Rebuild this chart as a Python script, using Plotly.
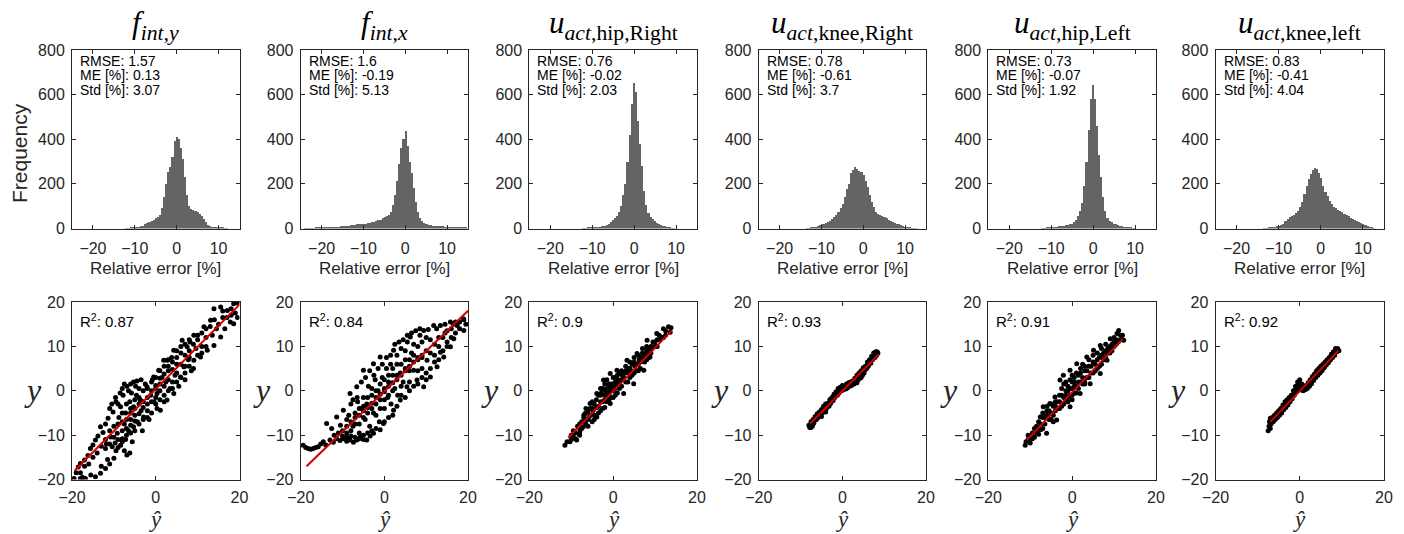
import plotly.graph_objects as go

W, H = 1404, 534

# ---------------- data ----------------
titles = [
    "<i>f</i><sub><i>int,y</i></sub>",
    "<i>f</i><sub><i>int,x</i></sub>",
    "<i>u</i><sub><i>act</i>,hip,Right</sub>",
    "<i>u</i><sub><i>act</i>,knee,Right</sub>",
    "<i>u</i><sub><i>act</i>,hip,Left</sub>",
    "<i>u</i><sub><i>act</i>,knee,left</sub>",
]
rmse = ["1.57", "1.6", "0.76", "0.78", "0.73", "0.83"]
me = ["0.13", "-0.19", "-0.02", "-0.61", "-0.07", "-0.41"]
std = ["3.07", "5.13", "2.03", "3.7", "1.92", "4.04"]
r2 = ["0.87", "0.84", "0.9", "0.93", "0.91", "0.92"]

bin_width = 0.5
hist_start = [-12.0, -24.0, -12.0, -13.5, -12.0, -13.5]
hist_counts_1 = [1,2,3,4,5,6,8,10,12,18,25,30,35,40,45,52,60,90,140,200,255,275,320,390,410,400,360,310,230,150,100,88,82,78,74,65,55,42,28,16,10,7,5,6,7,5,3,2,1]
hist_counts_2 = [1,1,2,2,2,3,3,3,3,4,4,4,5,5,6,7,8,9,10,11,12,13,14,15,16,18,19,20,21,22,24,26,28,30,32,36,40,45,50,55,62,72,105,150,215,290,360,400,435,370,300,250,180,120,75,45,32,25,20,16,14,12,11,10,10,9,9,8,8,8,7,7,7,6,6,6,5,5]
hist_counts_3 = [1,2,3,3,4,5,6,7,8,10,12,16,22,30,38,45,55,75,100,150,200,300,420,560,650,610,480,380,280,170,105,70,52,42,32,26,20,16,12,9,6,4,2,1]
hist_counts_4 = [1,2,3,5,7,10,14,18,22,26,30,35,42,52,62,75,92,110,140,175,200,250,262,275,265,258,255,240,215,185,150,120,95,75,65,60,58,52,46,40,35,30,26,22,18,14,10,6,4,3,2,2,1]
hist_counts_5 = [1,2,3,4,5,6,7,8,9,11,13,15,17,19,22,28,38,55,80,115,190,300,440,580,645,580,460,330,230,140,80,48,35,27,22,18,15,12,9,7,5,4,3,2,1]
hist_counts_6 = [1,2,3,4,6,8,10,13,16,22,32,42,50,56,62,68,80,95,120,155,190,220,245,262,270,265,248,225,190,165,145,125,110,98,90,84,78,72,67,60,54,48,42,37,32,28,24,20,16,12,8,4,2]
hist_counts = [hist_counts_1, hist_counts_2, hist_counts_3, hist_counts_4, hist_counts_5, hist_counts_6]

# scatter: (y_hat, y) pairs
pts_1 = [(-19.5,-19.8),(-19.0,-18.5),(-18.5,-17.2),(-18.0,-16.4),(-17.5,-19.5),(-17.0,-15.6),(-16.8,-19.8),(-16.2,-14.6),(-15.6,-13.0),(-15.0,-12.2),(-14.4,-11.1),(-14.4,-19.4),(-13.8,-10.2),(-13.2,-8.1),(-13.2,-18.6),(-12.6,-9.4),(-12.0,-17.5),(-12.0,-7.5),(-11.4,-6.2),(-11.0,-16.5),(-10.8,-10.4),(-10.4,-12.6),(-10.2,-4.8),(-10.0,-15.2),(-9.6,-1.5),(-9.2,-9.6),(-9.0,-3.0),(-8.8,-6.0),(-8.4,-3.6),(-8.4,-12.3),(-8.0,-10.8),(-7.8,-1.0),(-7.5,-7.5),(-7.2,-5.0),(-6.9,1.0),(-6.9,-14.5),(-6.5,-9.0),(-6.2,-2.5),(-6.0,-6.5),(-5.6,-11.5),(-5.3,2.0),(-5.3,-3.6),(-5.3,-8.1),(-5.0,-5.5),(-4.6,-1.0),(-4.4,-7.0),(-4.0,0.5),(-3.7,-2.1),(-3.5,-4.5),(-3.2,-9.0),(-2.9,-5.9),(-2.5,1.5),(-2.1,0.9),(-2.0,-3.0),(-1.6,-6.5),(-1.2,-1.0),(-0.8,2.5),(-0.5,3.1),(-0.4,-2.5),(0.0,0.5),(0.3,-0.6),(0.3,-4.0),(0.7,4.6),(1.0,1.5),(1.1,-4.4),(1.5,3.0),(1.9,6.9),(2.0,-1.0),(2.4,2.0),(2.7,6.9),(2.7,-2.1),(3.0,4.5),(3.4,0.5),(3.8,7.5),(4.3,9.1),(4.3,-0.6),(4.6,3.5),(5.0,6.0),(5.5,1.0),(5.9,3.1),(6.0,8.5),(6.3,11.4),(6.7,5.4),(7.0,2.5),(7.5,9.9),(7.8,7.0),(8.2,11.0),(8.5,4.5),(9.1,12.5),(9.1,6.9),(9.6,9.5),(10.0,11.5),(10.7,7.6),(11.0,10.0),(11.5,14.4),(12.0,12.0),(12.3,9.1),(13.1,15.9),(13.5,12.5),(13.9,18.5),(13.9,10.2),(14.5,14.0),(15.5,18.9),(15.5,12.1),(16.0,16.5),(16.5,14.0),(17.1,18.1),(17.8,15.5),(18.0,17.0),(18.6,19.6),(18.6,15.1),(19.5,19.8),(19.5,16.5),
         (-8.0,-7.0),(-7.0,-6.5),(-7.0,-8.5),(-6.0,-5.0),(-6.0,-7.8),(-5.0,-4.0),(-5.0,-6.8),(-4.0,-3.0),(-4.0,-5.2),(-3.0,-2.5),(-3.0,-3.8),(-2.0,-1.5),(-2.0,-4.5),(-1.0,0.0),(-1.0,-2.5),(0.0,1.2),(0.0,-1.5),(1.0,0.0),(1.0,2.8),(2.0,1.0),(2.0,3.8),(3.0,2.5),(3.0,5.5),(4.0,4.8),(4.0,2.0),(5.0,4.0),(5.0,7.5),(6.0,6.0),(7.0,8.0),(7.0,5.5),(8.0,9.0),(8.0,7.5),
         (-12,-11),(-11,-9),(-11,-12),(-10,-8),(-10,-10.5),(-9,-7.5),(-9,-11),(-8,-5),(-8,-9),(-7,-3),(-7,-10),(-6,-4),(-6,-9.5),(-5,-2),(-5,-9),(-4,-1.5),(-4,-7.5),(-3,0),(-3,-6.5),(-2,0.5),(-2,-6),(-1,2),(-1,-5),(0,3),(0,-3),(1,4.5),(1,-2),(2,5.5),(2,-2.5),(3,7),(3,0),(4,6.5),(4,0.5),(5,9),(5,2),(6,10),(6,3),(7,10.5),(7,4),(8,11.5),(8,5.5),(9,10.5),(9,5),(10,12.5),(10,8),(11,13),(11,8.5),(12,14),(12,10),(13,14.5),(14,16),(15,15),(16,18),(17,16.5),(18,18.5),(19,17.5),(-14,-14),(-15,-15),(-16,-16.5),(-17,-17),(-18,-18.5),(-13,-12.5),(-12,-13),
         (-11,-4),(-10.5,-3),(-9.5,-2.5),(-8.5,-0.5),(-8,0.5),(-7.5,1.5),(-6.5,0),(-6,1.5),(-5.8,-0.5),(-4.8,1),(-4.5,2.2),(-3.5,2.5),(-9.5,-13.5),(-9,-12.8),(-7.5,-13.5),(-6.2,-14),(-11.5,-15.5),(-13,-17),(-15.5,-19),(-18,-19.8),(-8,-11.5),(-7.2,-11),(-9.7,-11.8),(-11.8,-12)]
pts_2 = [(-19.4,-12.3),(-18.8,-12.8),(-18.2,-13.0),(-17.6,-13.2),(-17.0,-13.0),(-16.4,-12.8),(-15.8,-12.6),(-15.2,-12.0),(-14.6,-11.5),(-14.0,-12.2),(-13.0,-11.1),(-12.2,-11.6),(-11.4,-10.8),(-10.6,-11.2),(-9.8,-10.8),(-9.0,-11.4),(-8.2,-11.1),(-7.4,-11.6),(-6.6,-11.1),(-5.8,-10.4),(-5.0,-11.0),(-4.2,-11.1),(-3.4,-10.2),(-2.6,-9.6),
         (-13.8,-7.4),(-12.6,-8.5),(-11.4,-5.9),(-10.5,-7.8),(-9.8,-4.4),(-9.0,-6.5),(-8.2,-0.6),(-8.0,-3.0),(-7.5,-8.0),(-7.0,-5.0),(-6.6,0.9),(-6.4,-2.5),(-6.0,-7.5),(-5.6,-4.0),(-5.0,4.6),(-5.0,-1.5),(-4.6,-6.5),(-4.2,-3.0),(-3.8,1.0),(-3.5,-8.0),(-3.0,-1.0),(-2.6,6.1),(-2.6,-5.0),(-2.2,2.5),(-2.0,-3.0),(-1.5,0.0),(-1.2,-7.0),(-1.0,7.6),(-1.0,-2.0),(-0.5,3.0),(-0.2,-7.4),(0.0,0.5),(0.0,-4.0),(0.5,5.0),(0.8,-1.5),(1.0,2.0),(1.5,8.0),(1.6,-3.0),(2.0,3.5),(2.2,9.1),(2.2,-4.4),(2.5,0.5),(3.0,6.0),(3.2,-1.0),(3.8,-2.1),(3.8,4.0),(4.0,9.5),(4.5,2.0),(5.0,7.0),(5.4,0.9),(5.5,11.0),(6.0,4.5),(6.2,12.1),(6.5,8.5),(7.0,4.6),(7.0,10.5),(7.8,2.4),(8.0,7.0),(8.5,12.5),(9.0,5.0),(9.4,13.6),(9.4,0.9),(10.0,9.0),(10.2,6.9),(11.0,3.1),(11.0,11.5),(11.8,14.7),(12.0,8.0),(12.6,5.4),(13.0,12.0),(13.4,14.7),(13.4,8.7),(14.2,7.6),(14.5,13.0),(15.0,11.0),(15.8,15.5),(15.8,9.9),(16.6,11.7),(17.4,14.7),(18.0,15.5),(18.9,16.2),(19.0,13.6),(19.5,15.0),
         (-6.0,-5.5),(-5.0,-4.5),(-4.0,-3.8),(-3.0,-2.8),(-2.0,-1.5),(-1.0,-0.8),(0.0,-0.2),(1.0,1.0),(2.0,1.8),(3.0,2.5),(4.0,3.5),(5.0,4.5),(6.0,5.5),(7.0,6.5),(8.0,7.5),(9.0,8.0),
         (-10,-9),(-9,-8),(-9,-9.5),(-8,-7),(-8,-9),(-7,-6),(-7,-7.5),(-6,-4),(-6,-9.5),(-5,-3.5),(-5,-6),(-4,-1.5),(-4,-5),(-3,0.5),(-3,-4),(-2,0),(-2,-5.5),(-1,1.5),(-1,-4),(0,2.5),(0,-2),(1,3.5),(1,-1),(2,5),(2,0),(3,3.5),(3,8),(4,6),(4,1),(5,5),(5,9),(6,7),(6,2),(7,8),(8,10),(8,4.5),(9,11),(9,7.5),(10,12),(10,4),(11,8.5),(12,10.5),(13,10),(14,12),(15,13.5),(16,14),(17,15.5),
         (-8.5,-5.5),(-7.5,-2),(-6.5,-1.5),(-5.5,2),(-4.5,3),(-3.5,4.5),(-2.5,3.5),(-1.5,5),(-0.5,6),(0.5,7.5),(1.5,6),(2.5,10.5),(3.5,11),(4.5,11.5),(5.5,12.5),(6.5,13),(7.5,13.5),(8.5,14),
         (-12,-10),(-11,-9.5),(-10,-10.2),(-9,-10.5),(-8,-10.2),(-7,-10.5),(-6,-10.8),(-5,-10),(-4,-9.5),(-3,-9),(-2,-8.5),(-1,-8.8),(0,-7),(1,-6),(2,-5.5),(3,-3.5),(4,-1),(5,-1.5),(6,0),(7,1),(8,1.5),(9,3),(10,2.5),(11,5),(12,6.5),(13,7),(14,9),(15,10),(16,12),(17,13),(18,14),(19,16),(16.5,15),(14.5,15),(12.5,14),(10.5,13.8)]
pts_3 = [(-11.5,-12.3),(-11.0,-11.5),(-10.3,-11.5),(-10.0,-10.0),(-9.5,-10.4),(-9.0,-9.5),(-8.7,-11.1),(-8.5,-8.0),(-8.0,-9.5),(-7.9,-8.9),(-7.5,-7.0),(-7.1,-8.1),(-7.0,-6.0),(-6.7,-5.1),(-6.5,-7.5),(-6.0,-4.8),(-6.0,-6.5),(-5.5,-2.9),(-5.5,-5.5),(-5.0,-4.0),(-5.0,-7.0),(-4.5,-3.0),(-4.5,-5.5),(-4.0,-2.0),(-3.9,-0.6),(-3.9,-5.9),(-3.5,-3.5),(-3.0,-1.0),(-3.0,-4.5),(-2.5,0.5),(-2.5,-2.5),(-2.3,2.4),(-2.0,-1.0),(-2.0,-3.8),(-1.5,0.5),(-1.5,-2.5),(-1.0,1.5),(-1.0,-1.0),(-0.7,3.9),(-0.7,-2.9),(-0.5,0.0),(0.0,1.5),(0.0,-1.5),(0.5,0.5),(0.5,3.0),(0.9,4.6),(1.0,-0.5),(1.5,2.0),(1.5,4.0),(2.0,1.0),(2.5,3.0),(2.5,-0.6),(3.0,4.5),(3.3,6.9),(3.5,2.0),(4.0,5.0),(4.5,3.5),(4.9,1.6),(5.0,6.5),(5.5,4.5),(5.7,8.4),(6.0,6.0),(6.5,7.5),(6.5,5.0),(7.0,8.5),(7.3,4.6),(7.5,6.5),(8.0,9.0),(8.1,11.4),(8.5,7.5),(8.8,7.6),(9.0,10.0),(9.6,9.9),(10.0,11.0),(10.4,12.9),(10.5,10.0),(11.0,11.5),(11.5,12.0),(12.0,14.0),(12.5,12.5),(13.2,14.4),(13.6,13.2),(13.8,14.2),
         (-10,-11),(-9.5,-9),(-9,-10.8),(-8,-7.5),(-8,-10),(-7.5,-8.5),(-7,-5.5),(-6.5,-4),(-6,-8),(-5.5,-4),(-5,-2.5),(-4.5,-6.5),(-4,-3.8),(-3.5,-1),(-3.5,-5),(-3,0.5),(-3,-2.5),(-2.5,-4),(-2,1.5),(-2,-2),(-1.5,2.5),(-1.5,-1),(-1,0),(-1,-2),(-0.5,1.5),(-0.5,-1.5),(0,3),(0,0),(0.5,2),(0.5,-1),(1,1.5),(1,3.5),(1.5,0.5),(2,2.5),(2,4.5),(3,2),(3,5.5),(3.5,4),(4,3),(4,6.5),(4.5,6),(5,4),(5,7.5),(5.5,6),(6,4.5),(6,8),(6.5,6.5),(7,7),(7,9.5),(7.5,8),(8,7),(8,10),(8.5,9.5),(9,8.5),(9.5,11),(10,10),(10.5,11.5),(11,12.5),(12,12),(12.5,13.5),
         (-6.8,-6.8),(-5.8,-6),(-4.8,-4.5),(-2.8,-0.5),(-1.8,0),(-0.8,0.8),(0.2,1),(1.2,2.5),(2.2,3.5),(2.8,4),(3.8,5),(4.2,4.5),(5.2,5.5),(6.2,7),(7.2,7.5),(8.2,8.5),(9.2,9.5)]
pts_4 = [(-8.0,-7.8),(-7.8,-8.3),(-7.5,-7.0),(-7.2,-8.0),(-7.0,-6.5),(-6.8,-7.2),(-6.5,-5.8),(-6.2,-6.5),(-6.0,-5.2),(-5.8,-6.0),(-5.5,-4.8),(-5.2,-5.5),(-5.0,-4.2),(-4.8,-5.0),(-4.5,-3.5),(-4.2,-4.5),(-4.0,-3.0),(-3.8,-4.0),(-3.5,-2.8),(-3.2,-3.5),(-3.0,-2.0),(-2.8,-2.8),(-2.5,-1.5),(-2.2,-2.2),(-2.0,-0.8),(-1.8,-1.5),(-1.5,-0.2),(-1.2,-1.0),(-1.0,0.5),(-0.8,-0.5),(-0.5,0.8),(-0.2,0.0),(0.0,1.2),(0.2,0.2),(0.5,1.0),(0.8,0.4),(1.0,1.5),(1.2,0.6),(1.5,1.8),(1.8,1.0),(2.0,2.0),(2.2,1.2),(2.5,2.2),(2.8,1.5),(3.0,2.8),(3.2,1.8),(3.5,3.5),(3.8,2.5),(4.0,4.0),(4.2,2.8),(4.5,4.5),(4.8,3.5),(5.0,5.2),(5.2,4.0),(5.5,5.5),(5.8,5.0),(6.0,6.5),(6.2,5.5),(6.5,7.0),(6.8,6.2),(7.0,7.8),(7.2,7.0),(7.5,8.5),(7.8,7.5),(8.0,8.8),(8.2,8.0),(8.5,8.5),
         (-7.5,-8.3),(-7.0,-7.5),(-6.0,-6.0),(-5.0,-5.8),(-4.0,-4.8),(-3.0,-3.0),(-2.0,-1.5),(-1.0,-0.2),(0.0,0.5),(1.0,0.8),(2.0,1.5),(3.0,2.2),(4.0,3.2),(5.0,4.5),(6.0,5.8),(7.0,7.0),(8.0,8.0),(8.3,8.8),(-6.5,-6.5),(-5.5,-5.2),(-4.5,-4.2),(-3.5,-3.2),(-2.5,-2.0),(-1.5,-0.8),(-0.5,0.3),(0.5,0.6),(1.5,1.2),(2.5,1.8),(3.5,1.8),(4.5,3.0),(5.5,4.8),(6.5,6.2),(7.5,7.8)]
pts_5 = [(-11.2,-12.3),(-11.0,-11.5),(-10.5,-11.0),(-10.0,-10.4),(-10.0,-11.8),(-9.5,-9.5),(-9.0,-10.5),(-8.5,-8.0),(-8.4,-8.9),(-8.0,-9.8),(-7.6,-5.9),(-7.5,-7.5),(-7.0,-8.5),(-6.9,-3.6),(-6.5,-6.0),(-6.1,-9.6),(-6.0,-4.5),(-5.5,-6.5),(-5.3,-2.9),(-5.0,-5.0),(-4.5,-3.5),(-4.5,-7.0),(-4.1,-1.4),(-4.0,-4.5),(-3.7,-6.6),(-3.5,-2.5),(-3.0,-4.0),(-2.9,2.4),(-2.5,-1.0),(-2.1,3.5),(-2.0,-3.0),(-1.5,0.0),(-1.5,-2.0),(-1.0,1.0),(-1.0,-1.5),(-0.5,4.6),(-0.5,-3.6),(-0.5,0.5),(0.0,2.0),(0.0,-1.0),(0.5,1.0),(0.5,3.0),(1.0,-0.5),(1.1,6.1),(1.5,2.0),(1.9,-0.6),(2.0,4.0),(2.5,1.5),(3.0,4.5),(3.0,2.0),(3.5,7.6),(3.5,3.0),(4.0,5.5),(4.3,1.6),(4.5,4.0),(5.0,6.5),(5.1,9.1),(5.5,4.5),(6.0,7.0),(6.5,5.5),(6.7,10.2),(6.7,3.9),(7.0,8.0),(7.5,7.0),(8.0,9.0),(8.3,6.9),(8.5,8.5),(9.0,10.0),(9.1,11.7),(9.1,9.1),(9.5,9.0),(10.0,11.0),(10.5,10.5),(10.7,12.9),(11.1,13.6),(11.5,11.5),(12.0,12.5),(12.3,11.4),
         (-10.5,-10),(-9.5,-10.8),(-9,-8.5),(-8.5,-9.5),(-8,-7),(-7.5,-8.8),(-7,-6),(-7,-5),(-6.5,-7.5),(-6,-5.5),(-6,-3.5),(-5.5,-4.5),(-5,-3),(-5,-6.5),(-4.5,-5.5),(-4,-2.5),(-4,-3.5),(-3.5,-4),(-3,-1),(-3,-2.5),(-2.5,-3.5),(-2.5,0.5),(-2,-1.5),(-2,1.5),(-1.5,-1),(-1.5,2),(-1,0),(-1,-2.5),(-0.5,-1),(-0.5,2.5),(0,0.5),(0,-2),(0,3.5),(0.5,-0.5),(0.5,2),(1,1),(1,4),(1.5,0.5),(1.5,3.5),(2,2),(2,5),(2.5,3),(2.5,6),(3,1.5),(3,5.5),(3.5,4.5),(4,3),(4,7),(4.5,5.5),(5,4),(5,8),(5.5,6),(6,5),(6,8.5),(6.5,7.5),(7,6),(7,9.5),(7.5,8.5),(8,7.5),(8,10.5),(8.5,9.5),(9,8.5),(9.5,10.5),(10,10),(10,12),(10.5,11.5),(11,11),(11.5,12.5),(12,11.5)]
pts_6 = [(-7.5,-9.0),(-7.3,-8.0),(-7.2,-7.0),(-7.0,-8.5),(-7.0,-6.2),(-6.8,-7.5),(-6.5,-6.0),(-6.3,-7.0),(-6.0,-5.5),(-5.8,-6.5),(-5.5,-5.0),(-5.3,-6.0),(-5.0,-4.5),(-4.8,-5.5),(-4.5,-4.0),(-4.3,-5.0),(-4.0,-3.2),(-3.8,-4.3),(-3.5,-2.5),(-3.3,-3.8),(-3.0,-2.0),(-2.8,-3.2),(-2.5,-1.5),(-2.3,-2.5),(-2.0,-1.0),(-1.8,-1.8),(-1.5,0.0),(-1.3,-1.0),(-1.0,1.0),(-0.8,-0.2),(-0.5,2.0),(-0.3,0.5),(0.0,2.5),(0.0,1.0),(0.3,0.2),(0.5,1.5),(0.8,0.0),(1.0,1.0),(1.3,0.2),(1.5,1.2),(1.8,0.5),(2.0,1.8),(2.3,1.0),(2.5,2.5),(2.8,1.6),(3.0,3.2),(3.3,2.3),(3.5,3.8),(3.8,3.0),(4.0,4.5),(4.3,3.5),(4.5,5.0),(4.8,4.0),(5.0,5.5),(5.3,4.5),(5.5,6.0),(5.8,5.2),(6.0,6.5),(6.3,5.8),(6.5,7.0),(6.8,6.3),(7.0,7.5),(7.3,7.0),(7.5,8.2),(7.8,7.5),(8.0,8.8),(8.3,8.0),(8.5,9.5),(8.8,8.8),(9.0,9.5),(9.3,9.0),
         (-6.0,-6.2),(-5.0,-5.0),(-4.0,-4.0),(-3.0,-2.8),(-2.0,-1.8),(-1.0,0.2),(0.0,0.2),(1.0,0.5),(2.0,1.2),(3.0,2.5),(4.0,3.8),(5.0,4.8),(6.0,5.8),(7.0,6.8),(8.0,8.0),(-0.5,1.2),(0.5,0.8),(-1.5,-0.8),(1.5,0.6)]
scatter_pts = [pts_1, pts_2, pts_3, pts_4, pts_5, pts_6]

fit_slope = [0.95, 0.907, 0.98, 0.95, 0.995, 0.99]
fit_intercept = [0.4, -0.13, -0.11, -0.08, -0.35, -0.07]
fit_xmin = [-19.4, -18.6, -10.7, -7.7, -10.8, -7.0]
fit_xmax = [20.0, 20.0, 14.0, 8.7, 12.1, 9.2]

hist_xticks = [-20, -10, 0, 10]
hist_yticks = [0, 200, 400, 600, 800]
sc_ticks_x = [-20, 0, 20]
sc_ticks_y = [-20, -10, 0, 10, 20]

# ---------------- layout ----------------
lefts = [72.0, 300.7, 529.3, 758.7, 988.3, 1215.5]
rights = [239.5, 468.0, 697.0, 926.0, 1156.0, 1384.0]
top_row = (50.0, 228.5)
bot_row = (302.0, 479.5)

def fx(p):
    return p / W

def fy(p):
    return 1 - p / H

SANS = "Liberation Sans, Arial, sans-serif"
TICK_FONT = dict(family=SANS, size=16, color="#262626")
ANN_FONT = dict(family=SANS, size=14, color="#000000")
MATH_FONT = "Liberation Serif, DejaVu Serif, serif"

fig = go.Figure()
layout = dict(
    width=W, height=H, autosize=False,
    margin=dict(l=0, r=0, t=0, b=0, pad=0),
    paper_bgcolor="white", plot_bgcolor="white",
    showlegend=False, bargap=0,
)
annotations = []

def axis_common():
    return dict(showline=True, mirror="ticks", linecolor="#262626", linewidth=1,
                ticks="inside", ticklen=4, tickcolor="#262626", tickwidth=1,
                tickfont=TICK_FONT, showgrid=False, zeroline=False, fixedrange=True,
                automargin=False)

for i in range(6):
    # --- histogram (top) ---
    k = i + 1
    xn = "x" if k == 1 else f"x{k}"
    yn = "y" if k == 1 else f"y{k}"
    centers = [hist_start[i] + bin_width * j for j in range(len(hist_counts[i]))]
    fig.add_trace(go.Bar(x=centers, y=hist_counts[i], width=bin_width,
                         marker=dict(color="#646464", line=dict(width=0)),
                         xaxis=xn, yaxis=yn))
    xa = axis_common()
    xa.update(domain=[fx(lefts[i]), fx(rights[i])], range=[-25, 15], anchor=yn,
              tickmode="array", tickvals=hist_xticks, ticklabelstandoff=5)
    ya = axis_common()
    ya.update(domain=[fy(top_row[1]), fy(top_row[0])], range=[0, 800], anchor=xn,
              tickmode="array", tickvals=hist_yticks, ticklabelstandoff=3)
    layout["xaxis" if k == 1 else f"xaxis{k}"] = xa
    layout["yaxis" if k == 1 else f"yaxis{k}"] = ya

    # --- scatter (bottom) ---
    k2 = i + 7
    xn2, yn2 = f"x{k2}", f"y{k2}"
    px = [p[0] for p in scatter_pts[i]]
    py = [p[1] for p in scatter_pts[i]]
    fig.add_trace(go.Scatter(x=px, y=py, mode="markers",
                             marker=dict(color="black", size=5, line=dict(width=0)),
                             xaxis=xn2, yaxis=yn2))
    lx = [fit_xmin[i], fit_xmax[i]]
    ly = [fit_slope[i] * v + fit_intercept[i] for v in lx]
    fig.add_trace(go.Scatter(x=lx, y=ly, mode="lines",
                             line=dict(color="#d40000", width=2),
                             xaxis=xn2, yaxis=yn2))
    xa2 = axis_common()
    xa2.update(domain=[fx(lefts[i]), fx(rights[i])], range=[-20, 20], anchor=yn2,
               tickmode="array", tickvals=sc_ticks_x, ticklabelstandoff=3)
    ya2 = axis_common()
    ya2.update(domain=[fy(bot_row[1]), fy(bot_row[0])], range=[-20, 20], anchor=xn2,
               tickmode="array", tickvals=sc_ticks_y, ticklabelstandoff=3)
    layout[f"xaxis{k2}"] = xa2
    layout[f"yaxis{k2}"] = ya2

    cx = (lefts[i] + rights[i]) / 2
    # title
    annotations.append(dict(xref="paper", yref="paper", x=fx(cx), y=fy(25),
                            xanchor="center", yanchor="middle", showarrow=False,
                            text=titles[i], font=dict(family=MATH_FONT, size=31, color="black")))
    # stats
    for txt, yy in [(f"RMSE: {rmse[i]}", 61), (f"ME [%]: {me[i]}", 75.5), (f"Std [%]: {std[i]}", 90)]:
        annotations.append(dict(xref="paper", yref="paper", x=fx(lefts[i] + 6), y=fy(yy),
                                xanchor="left", yanchor="middle", showarrow=False,
                                text=txt, font=ANN_FONT))
    annotations.append(dict(xref="paper", yref="paper", x=fx(lefts[i] + 6), y=fy(320),
                            xanchor="left", yanchor="middle", showarrow=False,
                            text=f"R<sup>2</sup>: {r2[i]}",
                            font=dict(family=SANS, size=15, color="black")))
    # axis labels
    annotations.append(dict(xref="paper", yref="paper", x=fx(cx), y=fy(268),
                            xanchor="center", yanchor="middle", showarrow=False,
                            text="Relative error [%]",
                            font=dict(family=SANS, size=17, color="#262626")))
    annotations.append(dict(xref="paper", yref="paper", x=fx(cx), y=fy(519),
                            xanchor="center", yanchor="middle", showarrow=False,
                            text="<i>ŷ</i>", font=dict(family=MATH_FONT, size=23, color="#262626")))
    annotations.append(dict(xref="paper", yref="paper", x=fx(lefts[i] - 39), y=fy(390),
                            xanchor="center", yanchor="middle", showarrow=False,
                            text="<i>y</i>", font=dict(family=MATH_FONT, size=32, color="#262626")))

annotations.append(dict(xref="paper", yref="paper", x=fx(20), y=fy(153),
                        xanchor="center", yanchor="middle", showarrow=False, textangle=-90,
                        text="Frequency",
                        font=dict(family=SANS, size=21, color="#262626")))

layout["annotations"] = annotations
fig.update_layout(**layout)
fig.write_html("out.html", config={"displayModeBar": False},
               post_script="document.body.style.margin='0px';document.body.style.padding='0px';document.body.style.overflow='hidden';")
